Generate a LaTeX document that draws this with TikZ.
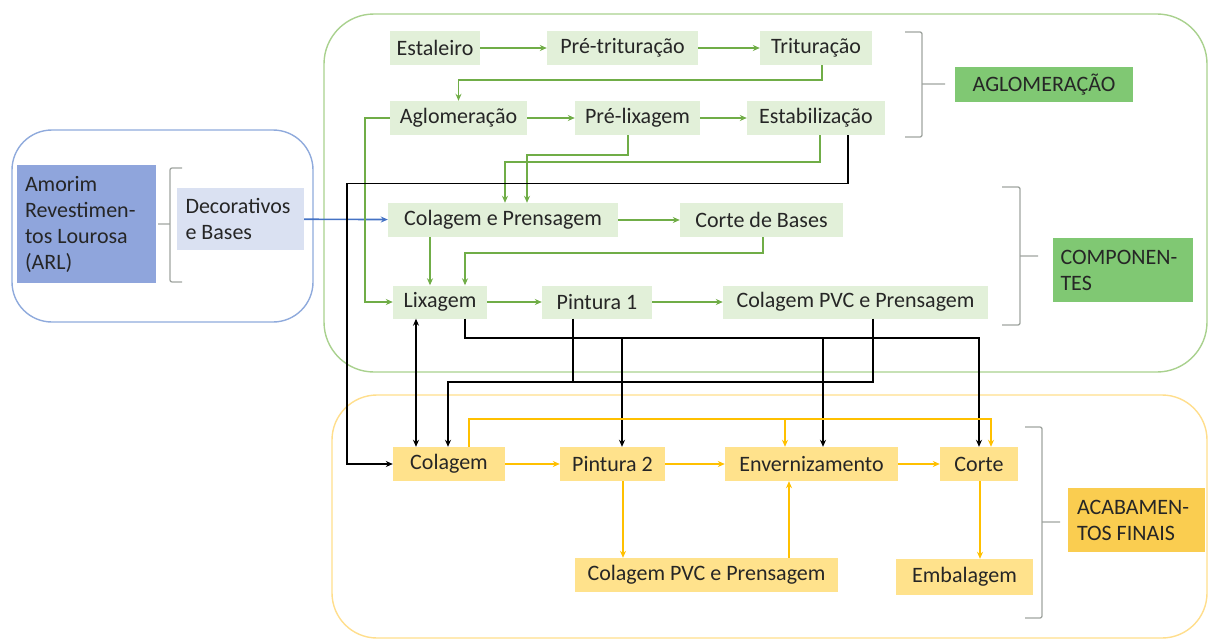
\documentclass[tikz,border=0pt]{standalone}
\usepackage{fontspec}
\setmainfont{Carlito}
\usepackage{tikz}
\usetikzlibrary{arrows.meta}
\definecolor{gfill}{RGB}{226,240,217}
\definecolor{gline}{RGB}{112,173,71}
\definecolor{glabel}{RGB}{128,200,115}
\definecolor{gframe}{RGB}{169,209,142}
\definecolor{yfill}{RGB}{255,226,140}
\definecolor{yline}{RGB}{255,192,0}
\definecolor{ylabel}{RGB}{250,205,80}
\definecolor{yframe}{RGB}{255,222,140}
\definecolor{bdark}{RGB}{143,165,220}
\definecolor{blight}{RGB}{218,225,242}
\definecolor{bline}{RGB}{68,114,196}
\definecolor{bframe}{RGB}{143,170,220}
\definecolor{brkgray}{RGB}{160,165,160}

\begin{document}
\begin{tikzpicture}[x=1pt, y=-1pt, >={Stealth[length=7pt, width=6pt]},
    every node/.style={font=\fontsize{22}{26}\selectfont, text=black!85, inner sep=0pt},
    gbox/.style={fill=gfill, minimum height=34pt},
    ybox/.style={fill=yfill, minimum height=34pt},
    zone/.style={line width=1.4pt, rounded corners=45pt},
    brk/.style={draw=brkgray, line width=1.3pt, rounded corners=2pt},
    garr/.style={draw=gline, line width=1.6pt, ->},
    yarr/.style={draw=yline, line width=1.6pt, ->},
    blk/.style={draw=black, line width=1.4pt},
    blkthick/.style={draw=black, line width=2.4pt}]
        \useasboundingbox (0, 0) rectangle (1210, 642);
        \draw[zone, draw=bframe, rounded corners=40pt] (12, 130) rectangle (313, 322);
        \draw[zone, draw=gframe, rounded corners=50pt] (324, 14) rectangle (1207, 372);
        \draw[zone, draw=yframe] (332, 395) rectangle (1207, 638);
        \node[fill=bdark, text width=123pt, inner xsep=8pt, minimum height=118pt, align=flush left] (arl) at (86.5, 224) {Amorim\\Revestimen-\\tos Lourosa\\(ARL)};
        \node[fill=blight, text width=110pt, inner xsep=8.5pt, minimum height=62pt, align=flush left] (deco) at (240.5, 219) {Decorativos\\e Bases};
        \node[gbox, minimum width=90pt] (est) at (435, 48) {Estaleiro};
        \node[gbox, minimum width=151pt] (pretrit) at (622.5, 48) {Pré-trituração};
        \node[gbox, minimum width=112pt] (trit) at (816, 48) {Trituração};
        \node[gbox, minimum width=137pt] (aglom) at (458.5, 118) {Aglomeração};
        \node[gbox, minimum width=125pt] (prelix) at (637.5, 118) {Pré-lixagem};
        \node[gbox, minimum width=138pt] (estab) at (816, 118) {Estabilização};
        \node[gbox, minimum width=230pt] (colpren) at (503, 220) {Colagem e Prensagem};
        \node[gbox, minimum width=163pt] (cortebases) at (761.5, 220) {Corte de Bases};
        \node[gbox, minimum width=94pt, minimum height=33pt] (lix) at (440, 302) {Lixagem};
        \node[gbox, minimum width=110pt, minimum height=33pt] (pint1) at (597, 302) {Pintura 1};
        \node[gbox, minimum width=265pt, minimum height=33pt] (colpvc1) at (855.5, 302) {Colagem PVC e Prensagem};
        \node[ybox, minimum width=112pt] (col) at (449, 464) {Colagem};
        \node[ybox, minimum width=105pt] (pint2) at (612.5, 464) {Pintura 2};
        \node[ybox, minimum width=173pt] (env) at (811.5, 464) {Envernizamento};
        \node[ybox, minimum width=78pt] (corte) at (979, 464) {Corte};
        \node[ybox, minimum width=263pt] (colpvc2) at (706.5, 575) {Colagem PVC e Prensagem};
        \node[ybox, minimum width=137pt, minimum height=36pt] (emb) at (964.5, 577) {Embalagem};
        \node[fill=glabel, minimum width=178pt, minimum height=35pt] (lblaglom) at (1044, 84.5) {AGLOMERAÇÃO};
        \node[fill=glabel, text width=125pt, inner xsep=7.5pt, minimum height=64pt, align=flush left] (lblcomp) at (1123, 270) {COMPONEN-\\TES};
        \node[fill=ylabel, text width=119pt, inner xsep=9pt, minimum height=64pt, align=flush left] (lblacab) at (1136.5, 520) {ACABAMEN-\\TOS FINAIS};
        \draw[brk] (182, 168) -- (170, 168) -- (170, 282) -- (182, 282) (170, 224) -- (158, 224);
        \draw[brk] (905, 32) -- (922, 32) -- (922, 137) -- (905, 137) (922, 84) -- (945, 84);
        \draw[brk] (1002, 187) -- (1020, 187) -- (1020, 325) -- (1002, 325) (1020, 256) -- (1038, 256);
        \draw[brk] (1025, 427) -- (1042, 427) -- (1042, 618) -- (1025, 618) (1042, 522) -- (1060, 522);
        \draw[draw=bline, line width=1.6pt, ->] (deco) -- (colpren);
        \draw[garr] (est) -- (pretrit);
        \draw[garr] (pretrit) -- (trit);
        \draw[garr] ([xshift=6pt]trit.south) -- ++(0, 15) -| (aglom.north);
        \draw[garr] (aglom) -- (prelix);
        \draw[garr] (prelix) -- (estab);
        \draw[garr] (aglom.west) -- ++(-25, 0) |- (lix.west);
        \draw[garr] ([xshift=4pt]estab.south) -- ++(0, 27) -| ([xshift=2pt]colpren.north);
        \draw[garr] ([xshift=-9.5pt]prelix.south) -- ++(0, 20) -| ([xshift=24pt]colpren.north);
        \draw[garr] (colpren) -- (cortebases);
        \draw[garr] ([xshift=-73pt]colpren.south) -- ([xshift=-10pt]lix.north);
        \draw[garr] ([xshift=1.5pt]cortebases.south) -- ++(0, 16) -| ([xshift=25pt]lix.north);
        \draw[garr] (lix) -- (pint1);
        \draw[garr] (pint1) -- (colpvc1);
        \draw[blk, ->] ([xshift=32pt]estab.south) -- ++(0, 48) -| ([xshift=-46pt]col.west) -- (col.west);
        \draw[blkthick, <->] ([xshift=-24pt]lix.south) -- ([xshift=-33pt]col.north);
        \coordinate (j1) at (622, 338);
        \coordinate (j2) at (823, 338);
        \coordinate (j3) at (979, 338);
        \coordinate (j4) at (448, 382);
        \draw[blk] ([xshift=25pt]lix.south) |- (j2);
        \draw[blkthick, ->] (j1) -- (j1 |- pint2.north);
        \draw[blkthick, ->] (j2) -- (j2 |- env.north);
        \draw[blkthick, ->] (j2) -- (j3) -- (j3 |- corte.north);
        \draw[blk] ([xshift=17.5pt]colpvc1.south) |- (j4);
        \draw[blkthick, ->] ([xshift=-24pt]pint1.south) |- (j4) -- (j4 |- col.north);
        \coordinate (k1) at (785, 419);
        \coordinate (k2) at (991, 419);
        \draw[yarr] (col) -- (pint2);
        \draw[yarr] (pint2) -- (env);
        \draw[yarr] (env) -- (corte);
        \draw[yarr, line width=2.4pt] ([xshift=20pt]col.north) |- (k2) -- (k2 |- corte.north);
        \draw[yarr] (k1) -- (k1 |- env.north);
        \draw[yarr] ([xshift=10.5pt]pint2.south) -- ([xshift=-83.5pt]colpvc2.north);
        \draw[yarr] ([xshift=82.5pt]colpvc2.north) -- ([xshift=-22.5pt]env.south);
        \draw[yarr] ([xshift=1pt]corte.south) -- ([xshift=15.5pt]emb.north);
    \end{tikzpicture}
\end{document}
